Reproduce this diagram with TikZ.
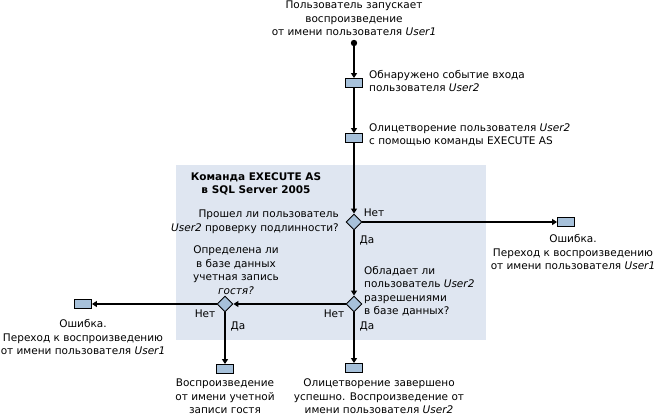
\documentclass[tikz,border=0pt]{standalone}
\usepackage{fontspec}
\setmainfont{DejaVu Sans}
\usetikzlibrary{arrows.meta,shapes.geometric}
\definecolor{bgblue}{HTML}{DFE6F1}
\definecolor{boxblue}{HTML}{A7C1DA}
\tikzset{
  every node/.style={font=\fontsize{10.5}{13.5}\selectfont, inner sep=0pt},
  actbox/.style={draw=black, line width=0.9pt, fill=boxblue, minimum width=17pt, minimum height=9pt},
  decis/.style={draw=black, line width=0.9pt, fill=boxblue, minimum width=16pt, minimum height=16pt, shape=diamond},
  flow/.style={line width=1.2pt, -{Triangle[length=5pt,width=6pt]}},
}
\begin{document}
\begin{tikzpicture}[x=1pt,y=-1pt]
\useasboundingbox (0,0) rectangle (656,416);
\fill[bgblue] (176,165) rectangle (486,340);
% nodes
\coordinate (st) at (354,43);
\fill (st) circle (3.2pt);
\node[actbox] (b1) at (354,83) {};
\node[actbox] (b2) at (354,138) {};
\node[decis] (d1) at (354,222) {};
\node[actbox] (eR) at (566,222) {};
\node[decis] (d2) at (354,304) {};
\node[decis] (d3) at (225,304) {};
\node[actbox] (eL) at (83,304) {};
\node[actbox] (gB) at (225,369) {};
\node[actbox] (sB) at (354,368) {};
% connectors
\draw[flow] (st) -- (b1);
\draw[flow] (b1) -- (b2);
\draw[flow] (b2) -- (d1);
\draw[flow] (d1) -- (eR);
\draw[flow] (d1) -- (d2);
\draw[flow] (d2) -- (d3);
\draw[flow] (d3) -- (eL);
\draw[flow] (d3) -- (gB);
\draw[flow] (d2) -- (sB);
% texts
\node[align=center] (t0) at (354,18.5) {Пользователь запускает\\воспроизведение\\от имени пользователя \textit{User1}};
\node[align=left, anchor=west] (t1) at (369,81) {Обнаружено событие входа\\пользователя \textit{User2}};
\node[align=left, anchor=west] (t2) at (369,135) {Олицетворение пользователя \textit{User2}\\с помощью команды EXECUTE AS};
\node[align=center, font=\fontsize{10.5}{13.5}\selectfont\bfseries] (ttl) at (256,184) {Команда EXECUTE AS\\в SQL Server 2005};
\node[align=right, anchor=east] (q1) at (339,222) {Прошел ли пользователь\\\textit{User2} проверку подлинности?};
\node (n1) at (374,213) {Нет};
\node (y1) at (367,240) {Да};
\node[align=left, anchor=west] (q2) at (364,291) {Обладает ли\\пользователь \textit{User2}\\разрешениями\\в базе данных?};
\node (n2) at (334,314) {Нет};
\node (y2) at (367,326) {Да};
\node[align=center] (q3) at (236,270) {Определена ли\\в базе данных\\учетная запись\\\textit{гостя?}};
\node (n3) at (205,314) {Нет};
\node (y3) at (238,326) {Да};
\node[align=center] (te) at (573,252) {Ошибка.\\Переход к воспроизведению\\от имени пользователя \textit{User1}};
\node[align=center] (tl) at (83,337) {Ошибка.\\Переход к воспроизведению\\от имени пользователя \textit{User1}};
\node[align=center] (tg) at (225,396.5) {Воспроизведение\\от имени учетной\\записи гостя};
\node[align=center] (ts) at (379,396.5) {Олицетворение завершено\\успешно. Воспроизведение от\\имени пользователя \textit{User2}};
\end{tikzpicture}
\end{document}
